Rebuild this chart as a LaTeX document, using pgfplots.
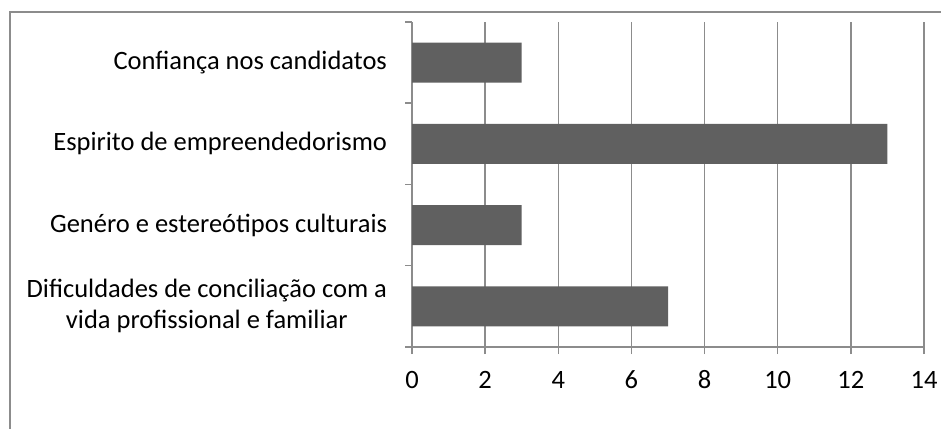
\documentclass[border=0pt]{standalone}
\usepackage{pgfplots}
\pgfplotsset{compat=1.18}
\usepackage{fontspec}
\setmainfont{Carlito}
\definecolor{barc}{HTML}{606060}
\definecolor{gridc}{HTML}{8C8C8C}
\begin{document}
\fontsize{26.5pt}{30pt}\selectfont
\begin{tikzpicture}[x=1pt,y=1pt]
\useasboundingbox (0,0) rectangle (941,428);
\draw[gridc, line width=1.5pt] (10,-5) -- (10,416) -- (946,416);
\begin{axis}[
  at={(412pt,81pt)}, anchor=south west,
  scale only axis, width=512pt, height=325pt,
  xbar, bar width=40pt,
  xmin=0, xmax=14, ymin=-0.5, ymax=3.5,
  xtick={0,2,...,14},
  ytick={-0.5,0.5,1.5,2.5,3.5},
  y tick label as interval,
  yticklabels={{Dificuldades de conciliação com a\\vida profissional e familiar},{Genéro e estereótipos culturais},{Espirito de empreendedorismo},{Confiança nos candidatos}},
  yticklabel style={align=center, font=\fontsize{26.5pt}{31pt}\selectfont, xshift=-9pt},
  xticklabel style={font=\fontsize{26.5pt}{30pt}\selectfont, anchor=base, yshift=-34pt},
  /pgf/number format/assume math mode=true,
  axis x line*=bottom, axis y line*=left,
  axis line style={gridc, line width=1.5pt},
  every tick/.style={gridc, line width=1.5pt},
  tick align=outside, major tick length=7pt,
  xmajorgrids, grid style={gridc, line width=1.5pt},
  enlargelimits=false,
  clip=false,
]
\addplot[fill=barc, draw=none] coordinates {(7,0) (3,1) (13,2) (3,3)};
\end{axis}
\end{tikzpicture}
\end{document}
